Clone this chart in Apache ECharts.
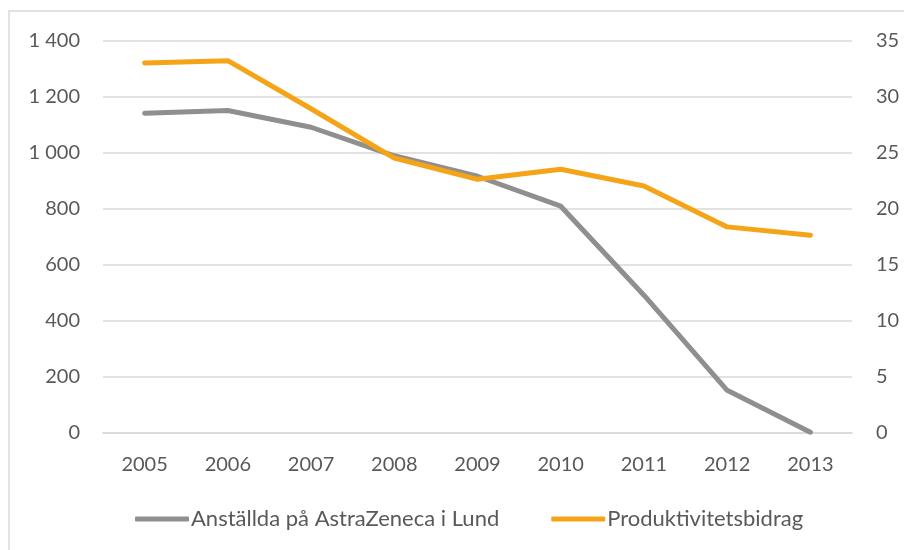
<!DOCTYPE html>
<html><head><meta charset="utf-8">
<script src="https://cdn.jsdelivr.net/npm/echarts@6/dist/echarts.min.js"></script>
<style>html,body{margin:0;padding:0;background:#fff}#c{width:904px;height:550px}</style>
</head><body><div id="c"></div>
<script>
const years = ['2005','2006','2007','2008','2009','2010','2011','2012','2013'];
const employees = [1140, 1150, 1090, 988, 915, 808, 490, 150, 0];
const productivity = [33.0, 33.2, 28.9, 24.5, 22.6, 23.5, 22.0, 18.35, 17.6];
const seriesNames = ['Anställda på AstraZeneca i Lund', 'Produktivitetsbidrag'];

const FONT = 'Lato';
const TXT = '#595959';
const chart = echarts.init(document.getElementById('c'), null, {renderer:'canvas'});
chart.setOption({
  animation: false,
  backgroundColor: '#fff',
  textStyle: {fontFamily: FONT},
  graphic: [{type:'rect', shape:{x:9, y:11, width:1000, height:1000}, style:{fill:'none', stroke:'#d9d9d9', lineWidth:1.5}, silent:true}],
  grid: {left: 103, right: 52, top: 40.5, bottom: 117.7},
  legend: {
    left: 130, top: 503, itemWidth: 54, itemHeight: 5, itemGap: 52,
    icon: 'roundRect',
    textStyle: {fontFamily: FONT, fontSize: 22, color: TXT, padding:[0,0,0,-3]},
    data: seriesNames
  },
  xAxis: {
    type: 'category', data: years, boundaryGap: true,
    axisLine: {show: true, lineStyle: {color: '#d9d9d9', width: 1.5}},
    axisTick: {show: false},
    axisLabel: {fontFamily: FONT, fontSize: 20, color: TXT, margin: 22}
  },
  yAxis: [{
    type: 'value', min: 0, max: 1400, interval: 200,
    axisLine: {show:false}, axisTick: {show:false},
    splitLine: {lineStyle: {color: '#d9d9d9', width: 1.5}},
    axisLabel: {fontFamily: FONT, fontSize: 20, color: TXT, margin: 23,
      formatter: v => String(v).replace(/\B(?=(\d{3})+(?!\d))/g, ' ')}
  }, {
    type: 'value', min: 0, max: 35, interval: 5, position: 'right',
    axisLine: {show:false}, axisTick: {show:false}, splitLine: {show:false},
    axisLabel: {fontFamily: FONT, fontSize: 20, color: TXT, margin: 24}
  }],
  series: [{
    name: seriesNames[0], type: 'line', yAxisIndex: 0, data: employees,
    symbol: 'none', lineStyle: {color: '#8f8f8f', width: 5, cap: 'round', join: 'round'},
    itemStyle: {color: '#8f8f8f'}
  }, {
    name: seriesNames[1], type: 'line', yAxisIndex: 1, data: productivity,
    symbol: 'none', lineStyle: {color: '#f5a418', width: 5, cap: 'round', join: 'round'},
    itemStyle: {color: '#f5a418'}
  }]
});
</script></body></html>
